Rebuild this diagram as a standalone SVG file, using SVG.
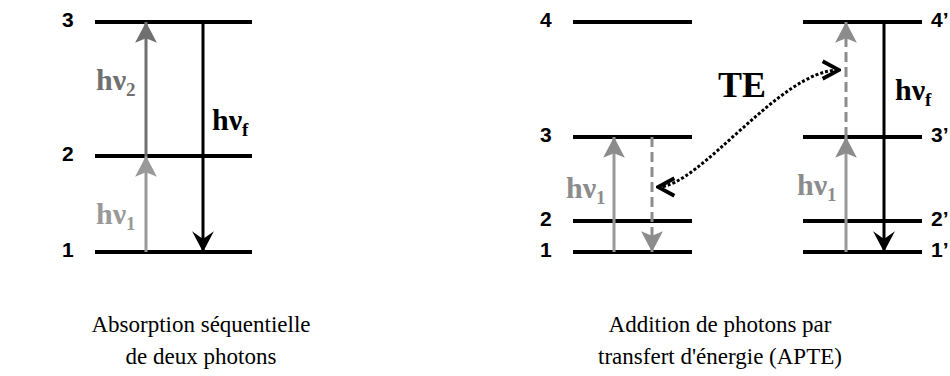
<svg xmlns="http://www.w3.org/2000/svg" width="950" height="376" viewBox="0 0 950 376">
<style>
.lvl{stroke:#000;stroke-width:4;fill:none}
.num{font-family:"Liberation Sans",Arial,sans-serif;font-weight:bold;font-size:21px;fill:#000}
.hv{font-family:"Liberation Serif","Times New Roman",serif;font-weight:bold;font-size:30px}
.sub{font-size:19px}
.cap{font-family:"Liberation Serif","Times New Roman",serif;font-size:23px;fill:#000;text-anchor:middle}
.g1{stroke:#999;stroke-width:3;fill:none}
.g2{stroke:#707070;stroke-width:3;fill:none}
.gd{stroke:#8c8c8c;stroke-width:3;fill:none;stroke-dasharray:10 5}
.blk{stroke:#000;stroke-width:3;fill:none}
.te{stroke:#000;stroke-width:3;fill:none;stroke-dasharray:3 2}
</style>
<defs>
<marker id="ahG1" markerUnits="userSpaceOnUse" markerWidth="24" markerHeight="24" viewBox="-20 -11 22 22" refX="0" refY="0" orient="auto"><path d="M0,0 L-19,-10 L-15,0 L-19,10 Z" fill="#999"/></marker>
<marker id="ahG2" markerUnits="userSpaceOnUse" markerWidth="24" markerHeight="24" viewBox="-20 -11 22 22" refX="0" refY="0" orient="auto"><path d="M0,0 L-19,-10 L-15,0 L-19,10 Z" fill="#707070"/></marker>
<marker id="ahG" markerUnits="userSpaceOnUse" markerWidth="24" markerHeight="24" viewBox="-20 -11 22 22" refX="0" refY="0" orient="auto"><path d="M0,0 L-19,-10 L-15,0 L-19,10 Z" fill="#8c8c8c"/></marker>
<marker id="ahB" markerUnits="userSpaceOnUse" markerWidth="24" markerHeight="24" viewBox="-20 -11 22 22" refX="0" refY="0" orient="auto"><path d="M0,0 L-19,-10 L-12,0 L-19,10 Z" fill="#000"/></marker>
<marker id="chev" markerUnits="userSpaceOnUse" markerWidth="24" markerHeight="24" viewBox="-20 -11 22 22" refX="0" refY="0" orient="auto-start-reverse"><path d="M-15,-8 L0,0 L-15,8" fill="none" stroke="#000" stroke-width="3.5"/></marker>
</defs>

<g id="left-diagram">
  <g id="L-level3"><line class="lvl" x1="95" y1="22" x2="252" y2="22"/><text class="num" x="62" y="27">3</text></g>
  <g id="L-level2"><line class="lvl" x1="95" y1="156" x2="252" y2="156"/><text class="num" x="62" y="161">2</text></g>
  <g id="L-level1"><line class="lvl" x1="95" y1="252" x2="252" y2="252"/><text class="num" x="62" y="257">1</text></g>
</g>

<g id="right-diagram-A">
  <g id="RA-level4"><line class="lvl" x1="573" y1="22" x2="692" y2="22"/><text class="num" x="540" y="27">4</text></g>
  <g id="RA-level3"><line class="lvl" x1="573" y1="137" x2="692" y2="137"/><text class="num" x="540" y="142">3</text></g>
  <g id="RA-level2"><line class="lvl" x1="573" y1="221" x2="692" y2="221"/><text class="num" x="540" y="226">2</text></g>
  <g id="RA-level1"><line class="lvl" x1="573" y1="252" x2="692" y2="252"/><text class="num" x="540" y="257">1</text></g>
</g>

<g id="right-diagram-B">
  <g id="RB-level4"><line class="lvl" x1="803" y1="22" x2="922" y2="22"/><text class="num" x="931" y="27">4’</text></g>
  <g id="RB-level3"><line class="lvl" x1="803" y1="137" x2="922" y2="137"/><text class="num" x="931" y="142">3’</text></g>
  <g id="RB-level2"><line class="lvl" x1="803" y1="221" x2="922" y2="221"/><text class="num" x="931" y="226">2’</text></g>
  <g id="RB-level1"><line class="lvl" x1="803" y1="252" x2="922" y2="252"/><text class="num" x="931" y="257">1’</text></g>
</g>

<g id="connectors">
  <line class="g1" x1="146" y1="252" x2="146" y2="156" marker-end="url(#ahG1)"/>
  <line class="g2" x1="146" y1="156" x2="146" y2="22" marker-end="url(#ahG2)"/>
  <line class="blk" x1="203" y1="22" x2="203" y2="252" marker-end="url(#ahB)"/>
  <line class="g1" x1="614" y1="252" x2="614" y2="137" marker-end="url(#ahG)"/>
  <line class="gd" x1="652" y1="137" x2="652" y2="252" marker-end="url(#ahG)"/>
  <line class="g1" x1="846" y1="252" x2="846" y2="137" marker-end="url(#ahG)"/>
  <line class="gd" x1="846" y1="137" x2="846" y2="22" marker-end="url(#ahG)"/>
  <line class="blk" x1="884" y1="22" x2="884" y2="252" marker-end="url(#ahB)"/>
  <path class="te" d="M658,187 C700,187 780,70 839,70" marker-start="url(#chev)" marker-end="url(#chev)"/>
</g>

<g id="labels">
  <text class="hv" x="96" y="90" fill="#707070">hν<tspan class="sub" dy="6">2</tspan></text>
  <text class="hv" x="96" y="224" fill="#999">hν<tspan class="sub" dy="6">1</tspan></text>
  <text class="hv" x="212" y="130" fill="#000">hν<tspan class="sub" dy="6">f</tspan></text>
  <text class="hv" x="566" y="198" fill="#8c8c8c">hν<tspan class="sub" dy="6">1</tspan></text>
  <text class="hv" x="797" y="195" fill="#8c8c8c">hν<tspan class="sub" dy="6">1</tspan></text>
  <text class="hv" x="895" y="100" fill="#000">hν<tspan class="sub" dy="6">f</tspan></text>
  <text x="718" y="97" style="font-family:'Liberation Serif','Times New Roman',serif;font-weight:bold;font-size:36px" fill="#000">TE</text>
</g>

<g id="captions">
  <text class="cap" x="201" y="332">Absorption séquentielle</text>
  <text class="cap" x="201" y="364">de deux photons</text>
  <text class="cap" x="720" y="332">Addition de photons par</text>
  <text class="cap" x="720" y="364">transfert d'énergie (APTE)</text>
</g>
</svg>
